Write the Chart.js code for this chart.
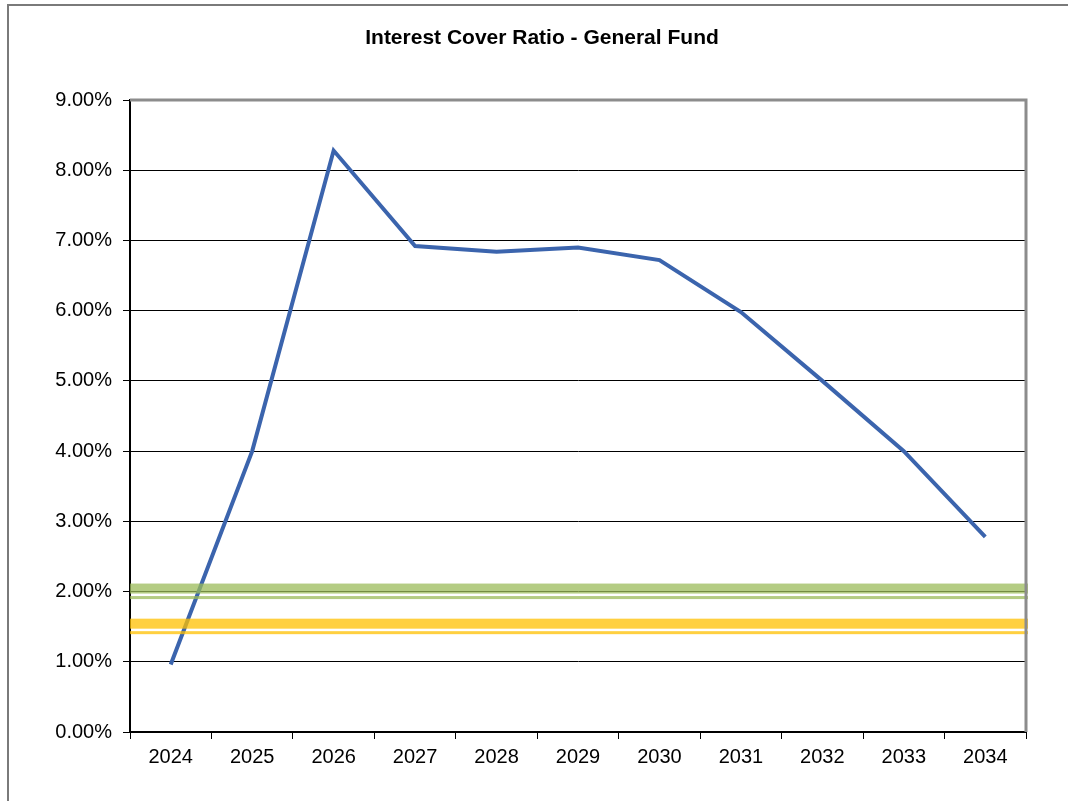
<!DOCTYPE html>
<html>
<head>
<meta charset="utf-8">
<title>Interest Cover Ratio - General Fund</title>
<script src="https://cdn.jsdelivr.net/npm/chart.js@4"></script>
<style>
  html, body { margin: 0; padding: 0; background: #fff; }
  canvas { display: block; }
</style>
</head>
<body>
<canvas id="icr" width="1068" height="801"></canvas>
<script>
// chart data
const chartTitle = 'Interest Cover Ratio - General Fund';
const years = ['2024', '2025', '2026', '2027', '2028', '2029', '2030', '2031', '2032', '2033', '2034'];
const coverRatio = [0.96, 4.00, 8.28, 6.92, 6.84, 6.90, 6.72, 5.98, 5.00, 4.00, 2.78];

// horizontal reference lines (percent) and their colours
const thresholdValues = [2.0, 1.5];
const thresholdColors = ['rgba(155,187,89,0.75)', 'rgba(255,192,0,0.75)'];

const fontFamily = '"Liberation Sans", Arial, sans-serif';

// white background, grey frame round the whole chart and the title
const outerFrame = {
  id: 'outerFrame',
  beforeDraw(chart) {
    const ctx = chart.ctx;
    ctx.save();
    ctx.fillStyle = '#fff';
    ctx.fillRect(0, 0, chart.width, chart.height);
    ctx.strokeStyle = '#7a7a7a';
    ctx.lineWidth = 2;
    ctx.strokeRect(8, 5, chart.width + 20, chart.height + 20);
    ctx.fillStyle = '#000';
    ctx.font = 'bold 21px ' + fontFamily;
    ctx.textAlign = 'center';
    ctx.textBaseline = 'middle';
    ctx.fillText(chartTitle, 542, 38);
    ctx.restore();
  }
};

// grey top / right edge of the plot area
const plotFrame = {
  id: 'plotFrame',
  afterDraw(chart) {
    const a = chart.chartArea, ctx = chart.ctx;
    ctx.save();
    ctx.strokeStyle = '#8c8c8c';
    ctx.lineWidth = 3;
    ctx.beginPath();
    ctx.moveTo(a.left, a.top);
    ctx.lineTo(a.right, a.top);
    ctx.lineTo(a.right, a.bottom);
    ctx.stroke();
    ctx.restore();
  }
};

// thick-thin double lines across the plot at the threshold values
const thresholds = {
  id: 'thresholds',
  afterDatasetsDraw(chart) {
    const a = chart.chartArea, ctx = chart.ctx;
    const y = chart.scales.y;
    ctx.save();
    thresholdValues.forEach(function(v, i) {
      const c = y.getPixelForValue(v);
      ctx.fillStyle = thresholdColors[i];
      ctx.fillRect(a.left, c - 8, a.right - a.left + 2, 10);
      ctx.fillRect(a.left, c + 4.5, a.right - a.left + 2, 3);
    });
    ctx.restore();
  }
};

const ctx = document.getElementById('icr').getContext('2d');
new Chart(ctx, {
  type: 'line',
  data: {
    labels: years,
    datasets: [{
      label: 'Interest Cover Ratio',
      data: coverRatio,
      borderColor: '#3b64ad',
      borderWidth: 4,
      pointRadius: 0,
      tension: 0,
      fill: false
    }]
  },
  options: {
    responsive: false,
    animation: false,
    devicePixelRatio: 1,
    layout: { padding: { left: 0, right: 42, top: 100, bottom: 0 } },
    plugins: {
      legend: { display: false },
      tooltip: { enabled: false },
      title: { display: false }
    },
    scales: {
      x: {
        offset: true,
        grid: { offset: true, drawOnChartArea: false, color: '#000', tickLength: 7, tickWidth: 1 },
        border: { color: '#000', width: 2 },
        ticks: {
          color: '#000',
          padding: 6,
          maxRotation: 0,
          font: { family: fontFamily, size: 20 }
        },
        afterFit(scale) { scale.height = 69; }
      },
      y: {
        min: 0,
        max: 9,
        grid: { color: '#000', lineWidth: 1, tickLength: 7 },
        border: { color: '#000', width: 2 },
        ticks: {
          stepSize: 1,
          color: '#000',
          padding: 11,
          font: { family: fontFamily, size: 20 },
          callback: function(v) { return v.toFixed(2) + '%'; }
        },
        afterFit(scale) { scale.width = 130; }
      }
    }
  },
  plugins: [outerFrame, thresholds, plotFrame]
});
</script>
</body>
</html>
